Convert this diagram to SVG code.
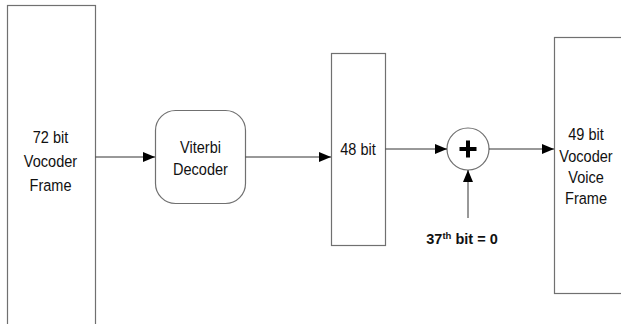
<svg xmlns="http://www.w3.org/2000/svg" width="621" height="324" viewBox="0 0 621 324">
<style>
.box{fill:#fff;stroke:#707070;stroke-width:1.2}
.t{font-family:"Liberation Sans",Arial,sans-serif;font-size:16.5px;fill:#111;text-anchor:middle}
.ln{stroke:#333;stroke-width:1;fill:none}
</style>
<defs>
<marker id="ah" viewBox="0 0 12 10" refX="12" refY="5" markerWidth="12" markerHeight="10" markerUnits="userSpaceOnUse" orient="auto">
<path d="M0,0 L12,5 L0,10 Z" fill="#000"/>
</marker>
</defs>
<g id="frame72">
<rect class="box" x="7.5" y="5.5" width="88" height="330"/>
<g transform="translate(50.5,0) scale(0.88,1)">
<text class="t" x="0" y="143">72 bit</text>
<text class="t" x="0" y="167">Vocoder</text>
<text class="t" x="0" y="191">Frame</text>
</g>
</g>
<g id="viterbi">
<rect class="box" x="155.5" y="110.5" width="90" height="93" rx="20" ry="20"/>
<g transform="translate(200.5,0) scale(0.88,1)">
<text class="t" x="0" y="153">Viterbi</text>
<text class="t" x="0" y="175">Decoder</text>
</g>
</g>
<g id="bit48">
<rect class="box" x="331.5" y="53.5" width="54" height="192"/>
<g transform="translate(358,0) scale(0.88,1)">
<text class="t" x="0" y="155">48 bit</text>
</g>
</g>
<g id="adder">
<circle cx="468" cy="149" r="21" fill="#fff" stroke="#707070" stroke-width="1.2"/>
<path d="M468,140.5 V157.5 M459.5,149 H476.5" stroke="#000" stroke-width="4"/>
</g>
<g id="bit37">
<text x="462" y="244" font-family="&quot;Liberation Sans&quot;,Arial,sans-serif" font-size="14.5" font-weight="bold" text-anchor="middle" fill="#111">37<tspan font-size="9.5" dy="-5">th</tspan><tspan dy="5"> bit = 0</tspan></text>
</g>
<g id="frame49">
<rect class="box" x="554.5" y="37.5" width="80" height="256"/>
<g transform="translate(586,0) scale(0.88,1)">
<text class="t" x="0" y="140">49 bit</text>
<text class="t" x="0" y="162">Vocoder</text>
<text class="t" x="0" y="183">Voice</text>
<text class="t" x="0" y="204">Frame</text>
</g>
</g>
<g id="connectors">
<line class="ln" x1="95.5" y1="157" x2="155" y2="157" marker-end="url(#ah)"/>
<line class="ln" x1="245.5" y1="157" x2="331" y2="157" marker-end="url(#ah)"/>
<line class="ln" x1="385.5" y1="149" x2="447" y2="149" marker-end="url(#ah)"/>
<line class="ln" x1="489" y1="149" x2="554" y2="149" marker-end="url(#ah)"/>
<line class="ln" x1="468" y1="218" x2="468" y2="170" marker-end="url(#ah)"/>
</g>
</svg>
